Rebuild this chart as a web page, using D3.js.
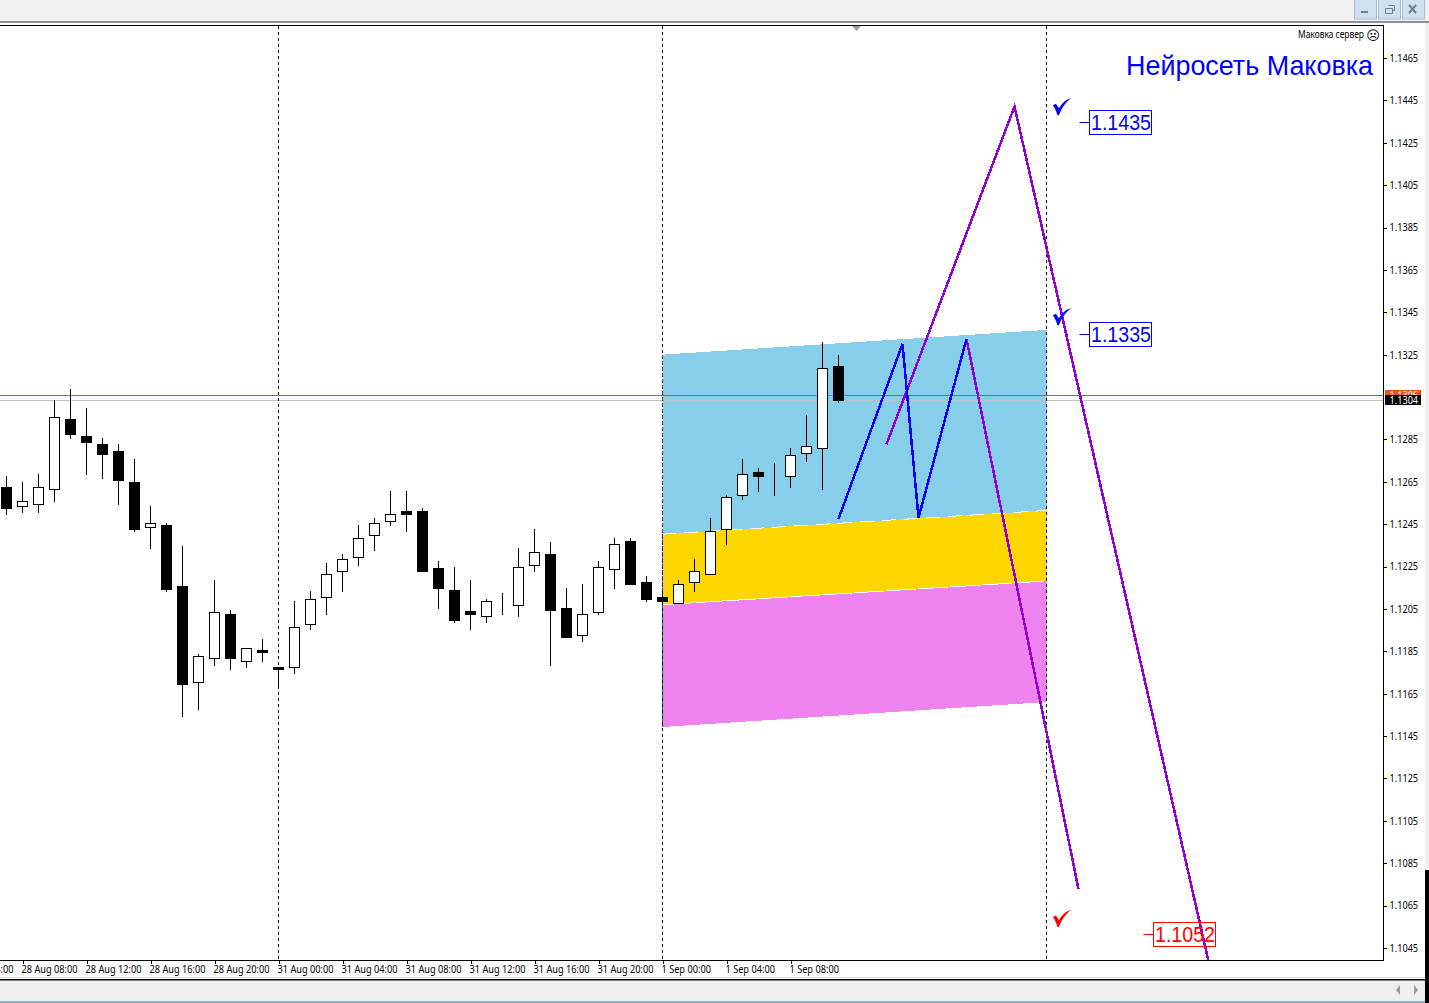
<!DOCTYPE html>
<html><head><meta charset="utf-8">
<script src="https://cdnjs.cloudflare.com/ajax/libs/d3/7.8.5/d3.min.js"></script>
<style>html,body{margin:0;padding:0;background:#fff;overflow:hidden}svg{display:block}</style>
</head><body><svg id="c" width="1429" height="1003"></svg>
<script>
// bar index, oldest first; one hour per bar
const opens  =[1.12625,1.12533,1.12544,1.12615,1.12946,1.12866,1.12828,1.12795,1.12649,1.12435,1.12446,1.12158,1.11702,1.11817,1.12026,1.11803,1.11855,1.11776,1.11775,1.11978,1.12105,1.12228,1.12294,1.12398,1.12464,1.12508,1.12508,1.12239,1.12135,1.12036,1.12015,1.12075,1.12067,1.12256,1.12309,1.12054,1.11926,1.12034,1.12237,1.12366,1.12177,1.12106,1.12075,1.12176,1.12214,1.12426,1.12586,1.12695,1.12685,1.12676,1.12785,1.12808,1.13196];
const highs  =[1.12677,1.12649,1.12687,1.13036,1.13088,1.12998,1.12857,1.12828,1.12758,1.12536,1.12456,1.12347,1.11837,1.12187,1.12045,1.11864,1.11908,1.11776,1.12088,1.12135,1.12267,1.12309,1.12446,1.12479,1.12607,1.12607,1.12526,1.12276,1.12248,1.12187,1.12097,1.12125,1.12336,1.12426,1.12366,1.12149,1.12168,1.12276,1.12385,1.12385,1.12206,1.12125,1.12187,1.12286,1.12479,1.12588,1.12758,1.12715,1.12739,1.12810,1.12965,1.13310,1.13248];
const lows   =[1.12495,1.12504,1.12504,1.12556,1.12853,1.12682,1.12665,1.12542,1.12415,1.12334,1.12131,1.11542,1.11573,1.11782,1.11763,1.11773,1.11801,1.11678,1.11744,1.11952,1.12023,1.12131,1.12254,1.12325,1.12443,1.12415,1.12226,1.12051,1.11985,1.11952,1.11985,1.12023,1.12013,1.12226,1.11782,1.11914,1.11895,1.12023,1.12146,1.12164,1.12084,1.12083,1.12075,1.12131,1.12214,1.12353,1.12566,1.12603,1.12584,1.12622,1.12745,1.12613,1.13023];
const closes =[1.12523,1.12558,1.12624,1.12954,1.12872,1.12835,1.12781,1.12655,1.12424,1.12454,1.12144,1.11692,1.11827,1.12034,1.11815,1.11864,1.11844,1.11763,1.11963,1.12096,1.12214,1.12284,1.12383,1.12454,1.12497,1.12495,1.12226,1.12146,1.11995,1.12023,1.12086,1.12075,1.12247,1.12317,1.12042,1.11914,1.12025,1.12247,1.12355,1.12164,1.12094,1.12083,1.12166,1.12228,1.12416,1.12577,1.12685,1.12674,1.12685,1.12775,1.12818,1.13186,1.13033];

const priceTicks=[1.1465,1.1445,1.1425,1.1405,1.1385,1.1365,1.1345,1.1325,1.1285,1.1265,1.1245,1.1225,1.1205,1.1185,1.1165,1.1145,1.1125,1.1105,1.1085,1.1065,1.1045];
const timeTickBars=[-3,1,5,9,13,17,21,25,29,33,37,41,45,49];
const timeTickLabels=["28 Aug 04:00","28 Aug 08:00","28 Aug 12:00","28 Aug 16:00","28 Aug 20:00","31 Aug 00:00","31 Aug 04:00","31 Aug 08:00","31 Aug 12:00","31 Aug 16:00","31 Aug 20:00","1 Sep 00:00","1 Sep 04:00","1 Sep 08:00"];
const separatorBars=[17,41,65];

// channel: bars [start,end], prices at each end
const channelBars=[41,65];
const skyTop=[1.13250,1.13367], skyBottom=[1.12403,1.12515];
const goldBottom=[1.12070,1.12182];
const pinkBottom=[1.11493,1.11611];

const blueZigBars=[52,56,57,60];
const blueZigPrices=[1.12475,1.13301,1.12480,1.13324];
const purpleABars=[55,63,76];
const purpleAPrices=[1.12827,1.14421,1.10096];
const purpleBBars=[60,67];
const purpleBPrices=[1.13324,1.10728];

const askPrice=1.13058, bidPrice=1.13036;
const bidLabel="1.1304", askLabel="1.1306";

const levelLabels=["1.1435","1.1335","1.1052"];
const levelPrices=[1.14346,1.13346,1.10514];
const levelBars=[67.66,67.66,71.69];
const levelColors=["#0000ff","#0000ff","#ff0000"];
const tickPrices=[1.14417,1.13426,1.10587];
const tickColors=["#0000ff","#0000ff","#ff0000"];

const svg=d3.select("#c");
const uiFont="'Noto Sans',Tahoma,sans-serif", bigFont="'Liberation Sans',Arial,sans-serif";
// narrow a text to the reference's tighter letter widths
function squeeze(sel,k){sel.each(function(){const w=this.getComputedTextLength();
  d3.select(this).attr("textLength",(w*k).toFixed(1)).attr("lengthAdjust","spacingAndGlyphs");});}

const plot={l:0,r:1383.5,t:25.5,b:960.5};
const x=d3.scaleLinear().domain([0,65]).range([6.5,1046.5]);
const y=d3.scaleLinear().domain([1.1465,1.1045]).range([58,948]);
const sy=p=>Math.round(y(p)-0.5)+0.5;

// ---- window chrome
svg.append("rect").attr("width",1429).attr("height",1003).attr("fill","#fff");
svg.append("rect").attr("width",1429).attr("height",21).attr("fill","#f0f0f0");
svg.append("rect").attr("y",21).attr("width",1429).attr("height",2).attr("fill","#8f8f8f");
const btn=[[1354,22],[1378,22],[1402,22]];
btn.forEach(([bx,w])=>svg.append("rect").attr("x",bx+.5).attr("y",-1).attr("width",w).attr("height",20).attr("fill","#cfe0f0").attr("stroke","#a9bfd4"));
svg.append("rect").attr("x",1361).attr("y",11).attr("width",7).attr("height",2).attr("fill","#6f7f8f");
svg.append("path").attr("d","M1385.5 8.5h7v5h-7zM1388.5 5.5h6v5h-2").attr("fill","none").attr("stroke","#6f7f8f");
svg.append("path").attr("d","M1409 5l7 8M1416 5l-7 8").attr("stroke","#6f7f8f").attr("stroke-width",2);
svg.append("rect").attr("x",1425).attr("y",23).attr("width",4).attr("height",847).attr("fill","#f0f0f0");
svg.append("rect").attr("x",1425).attr("y",870).attr("width",4).attr("height",133).attr("fill","#000");
svg.append("rect").attr("y",977).attr("width",1425).attr("height",1).attr("fill","#dcdcdc");
svg.append("rect").attr("y",979.5).attr("width",1425).attr("height",22).attr("fill","#efefef");
svg.append("rect").attr("y",979).attr("width",1425).attr("height",1.5).attr("fill","#000");
svg.append("rect").attr("y",1001).attr("width",1425).attr("height",2).attr("fill","#8fb0cc");
svg.append("path").attr("d","M1396 990l4 -5v10zM1418 990l-4 -5v10z").attr("fill","#9a9a9a");

// ---- plot
const clipDefs=svg.append("defs").append("clipPath").attr("id","plot");
clipDefs.append("rect").attr("x",plot.l).attr("y",plot.t).attr("width",plot.r-plot.l).attr("height",plot.b-plot.t);
const g=svg.append("g").attr("clip-path","url(#plot)");

function band(top,bottom,color){
  const p=[[channelBars[0],top[0]],[channelBars[1],top[1]],[channelBars[1],bottom[1]],[channelBars[0],bottom[0]]];
  g.append("path").attr("d",d3.line().x(d=>x(d[0])).y(d=>y(d[1]))(p)+"Z").attr("fill",color).attr("shape-rendering","crispEdges");
}
band(skyTop,skyBottom,"#87ceeb");
band(skyBottom,goldBottom,"#ffd700");
band(goldBottom,pinkBottom,"#ee82ee");
const edge=d3.line().x((d,i)=>x(channelBars[i])).y(d=>y(d));
g.append("path").attr("d",edge(skyBottom)).attr("fill","none").attr("stroke","#fff").attr("stroke-width",1).attr("stroke-dasharray","14 8").attr("shape-rendering","crispEdges");
g.append("path").attr("d",edge(goldBottom)).attr("fill","none").attr("stroke","#fff").attr("stroke-width",1).attr("stroke-dasharray","30 2").attr("shape-rendering","crispEdges");

// current price lines
g.append("line").attr("x1",0).attr("x2",plot.r).attr("y1",sy(askPrice)).attr("y2",sy(askPrice)).attr("stroke","#e8481c");
g.append("line").attr("x1",0).attr("x2",plot.r).attr("y1",sy(bidPrice)).attr("y2",sy(bidPrice)).attr("stroke","#c0c0c0");

// separators
separatorBars.forEach(b=>g.append("line").attr("x1",x(b)).attr("x2",x(b)).attr("y1",plot.t).attr("y2",plot.b)
  .attr("stroke","#000").attr("stroke-dasharray","3 3").attr("shape-rendering","crispEdges"));
// XOR-tinted dashes where the separator crosses the channel
[[skyTop[0],skyBottom[0],"#78311a"],[skyBottom[0],goldBottom[0],"#0028ff"],[goldBottom[0],pinkBottom[0],"#117d11"]].forEach(s=>
  g.append("line").attr("x1",x(channelBars[0])).attr("x2",x(channelBars[0])).attr("y1",y(s[0])).attr("y2",y(s[1]))
   .attr("stroke",s[2]).attr("stroke-dasharray","3 3").attr("shape-rendering","crispEdges"));

// candles
const candles=d3.range(opens.length).map(i=>({i,o:opens[i],h:highs[i],l:lows[i],c:closes[i]}));
const cg=g.append("g").attr("shape-rendering","crispEdges");
cg.selectAll("line").data(candles).join("line")
  .attr("x1",d=>x(d.i)).attr("x2",d=>x(d.i)).attr("y1",d=>Math.round(y(d.h))).attr("y2",d=>Math.round(y(d.l))).attr("stroke","#000");
cg.selectAll("rect").data(candles).join("rect")
  .attr("x",d=>x(d.i)-5).attr("width",10)
  .attr("y",d=>sy(Math.max(d.o,d.c)))
  .attr("height",d=>Math.max(0,sy(Math.min(d.o,d.c))-sy(Math.max(d.o,d.c))))
  .attr("fill",d=>d.c<d.o?"#000":"#fff").attr("stroke","#000");

// wave lines
const wave=d3.line().x(d=>x(d[0])).y(d=>y(d[1]));
[[purpleABars,purpleAPrices,"#9400d3"],[purpleBBars,purpleBPrices,"#9400d3"],[blueZigBars,blueZigPrices,"#0000ff"]].forEach(([b,p,col])=>
  g.append("path").attr("d",wave(d3.zip(b,p))).attr("fill","none").attr("stroke",col).attr("stroke-width",2.5).attr("shape-rendering","crispEdges"));

// level labels
levelLabels.forEach((t,k)=>{
  const px=x(levelBars[k]), py=y(levelPrices[k]), col=levelColors[k];
  const lx=Math.floor(px)+.5, ly=Math.floor(py)+.5;
  g.append("line").attr("x1",lx-10).attr("x2",lx).attr("y1",ly).attr("y2",ly).attr("stroke",col);
  g.append("rect").attr("x",lx).attr("y",ly-12).attr("width",62).attr("height",24).attr("fill","none").attr("stroke",col);
  g.append("text").attr("x",lx+1.5).attr("y",ly+7).attr("font-family",bigFont).attr("font-size",22).attr("fill",col)
   .attr("textLength",60).attr("lengthAdjust","spacingAndGlyphs").text(t);
});
// check marks
tickPrices.forEach((p,k)=>{
  g.append("path").attr("transform",`translate(${x(65.4)},${y(p)})`)
   .attr("d","M0 -2 L3 -3.5 L6 1 C9 -4 13 -8 18 -9 C13 -5 9 0 6 8 L4.5 8 C3.5 4 2 1 0 -2Z").attr("fill",tickColors[k]);
});

// titles
g.append("text").attr("x",1126).attr("y",75).attr("font-family",bigFont).attr("font-size",28).attr("fill","#0000ff")
 .attr("textLength",247).attr("lengthAdjust","spacingAndGlyphs").text("Нейросеть Маковка");
g.append("text").attr("x",1298).attr("y",38).attr("font-family",uiFont).attr("font-size",10).attr("fill","#000")
 .attr("textLength",66).attr("lengthAdjust","spacingAndGlyphs").text("Маковка сервер");
g.append("text").attr("x",1373).attr("y",39.5).attr("text-anchor","middle").attr("font-family","'DejaVu Sans'").attr("font-size",13).attr("fill","#000").text("☹");

// frame
svg.append("path").attr("d",`M0 ${plot.t}H${plot.r}V${plot.b}H0`).attr("fill","none").attr("stroke","#000").attr("shape-rendering","crispEdges");
svg.append("path").attr("d","M852 26h9l-4.5 5z").attr("fill","#a0a0a0");

// axes
const ay=svg.append("g").attr("transform",`translate(${plot.r},0)`)
  .call(d3.axisRight(y).tickValues(priceTicks).tickSize(3).tickPadding(3).tickFormat(d3.format(".4f")));
ay.select(".domain").remove();
ay.selectAll("line").attr("shape-rendering","crispEdges");
ay.selectAll("text").attr("font-family",uiFont).attr("font-size",10.5).attr("fill","#000").call(squeeze,.87);

const ax=svg.append("g").attr("transform",`translate(0,${plot.b})`)
  .call(d3.axisBottom(x).tickValues(timeTickBars).tickSize(3).tickPadding(2).tickFormat((d,i)=>timeTickLabels[i]));
ax.select(".domain").remove();
ax.selectAll("line").attr("shape-rendering","crispEdges");
ax.selectAll("text").attr("font-family",uiFont).attr("font-size",10.5).attr("fill","#000").attr("text-anchor","start").attr("dx",-1.5).call(squeeze,.875);

// current price tags
const tag=(p,bg,fg,t)=>{const yy=sy(p);
  svg.append("rect").attr("x",1385).attr("y",yy-5.5).attr("width",36).attr("height",10).attr("fill",bg);
  svg.append("text").attr("x",1389.5).attr("y",yy+3.5).attr("font-family",uiFont).attr("font-size",10.5).attr("fill",fg).text(t).call(squeeze,.87);};
tag(askPrice,"#f0501a","#fff",askLabel);
tag(bidPrice,"#000","#fff",bidLabel);
</script></body></html>
